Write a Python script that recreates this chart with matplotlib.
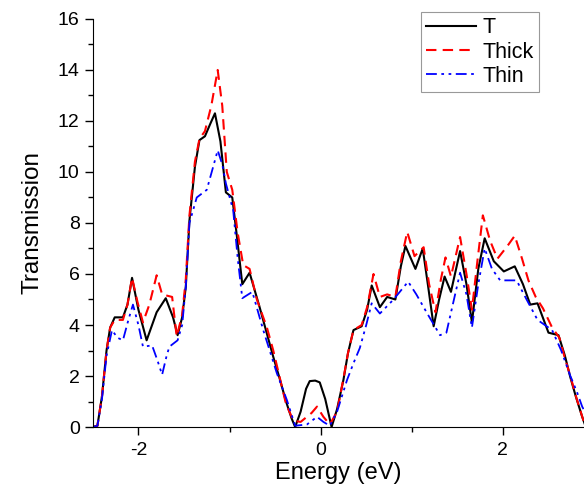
import matplotlib
matplotlib.use("Agg")
import matplotlib.pyplot as plt
from matplotlib.ticker import MultipleLocator

plt.rcParams['font.family'] = ['Liberation Sans', 'DejaVu Sans']
plt.rcParams['axes.unicode_minus'] = False

# T curve (black solid)
e_t = [-2.5, -2.45, -2.40, -2.35, -2.31, -2.26, -2.17, -2.12, -2.07, -2.00, -1.91, -1.80,
       -1.70, -1.62, -1.57, -1.52, -1.48, -1.44, -1.38, -1.33, -1.27, -1.21, -1.16, -1.10,
       -1.04, -0.97, -0.92, -0.86, -0.78, -0.67, -0.52, -0.45, -0.38, -0.32, -0.28, -0.22,
       -0.16, -0.12, -0.06, -0.01, 0.05, 0.12, 0.18, 0.25, 0.30, 0.36, 0.45, 0.51, 0.56,
       0.65, 0.73, 0.82, 0.88, 0.93, 1.04, 1.12, 1.18, 1.24, 1.30, 1.36, 1.43, 1.53, 1.60,
       1.66, 1.73, 1.80, 1.90, 2.01, 2.13, 2.22, 2.30, 2.38, 2.50, 2.61, 2.68, 2.74, 2.80,
       2.87, 2.90]
t_t = [0, 0.05, 1.2, 3.0, 3.9, 4.3, 4.3, 4.8, 5.85, 4.6, 3.4, 4.5,
       5.05, 4.3, 3.6, 4.3, 5.5, 8.1, 10.2, 11.25, 11.4, 11.9, 12.3, 11.2,
       9.2, 9.0, 7.5, 5.6, 6.05, 4.7, 2.75, 1.9, 1.0, 0.35, 0.0, 0.6,
       1.5, 1.8, 1.82, 1.75, 1.1, 0.0, 0.7, 1.85, 2.9, 3.8, 3.95, 4.6, 5.55,
       4.7, 5.1, 5.0, 6.3, 7.1, 6.2, 7.0, 5.5, 3.95, 5.0, 5.9, 5.3, 6.9, 5.6,
       4.1, 6.2, 7.4, 6.5, 6.1, 6.3, 5.6, 4.8, 4.85, 3.7, 3.6, 2.8, 1.95, 1.2,
       0.4, 0.1]

# Thick curve (red dashed)
e_thick = [-2.5, -2.45, -2.40, -2.35, -2.31, -2.26, -2.17, -2.12, -2.07, -2.01, -1.95, -1.88,
           -1.80, -1.74, -1.63, -1.58, -1.52, -1.48, -1.44, -1.38, -1.33, -1.27, -1.20, -1.13,
           -1.08, -1.03, -0.97, -0.91, -0.85, -0.78, -0.70, -0.59, -0.52, -0.45, -0.38, -0.30,
           -0.22, -0.10, -0.04, 0.03, 0.10, 0.18, 0.25, 0.30, 0.36, 0.45, 0.51, 0.58, 0.65,
           0.73, 0.82, 0.88, 0.95, 1.03, 1.13, 1.19, 1.26, 1.32, 1.37, 1.43, 1.53, 1.60, 1.66,
           1.72, 1.78, 1.86, 1.94, 2.05, 2.13, 2.21, 2.28, 2.36, 2.44, 2.54, 2.62, 2.68, 2.74,
           2.81, 2.88, 2.90]
t_thick = [0, 0.05, 1.2, 3.0, 3.9, 4.2, 4.2, 4.8, 5.85, 4.9, 4.1, 4.8,
           5.95, 5.2, 5.1, 3.55, 4.4, 5.8, 8.3, 10.4, 11.3, 11.6, 12.6, 14.0,
           12.6, 10.0, 9.3, 7.6, 6.35, 6.2, 5.0, 3.9, 3.0, 1.95, 0.9, 0.25,
           0.2, 0.55, 0.8, 0.4, 0.1, 0.6, 1.9, 2.9, 3.8, 4.0, 4.7, 6.0, 5.1,
           5.2, 5.1, 6.5, 7.65, 6.7, 7.05, 5.6, 4.5, 5.8, 6.65, 5.9, 7.45, 6.0, 4.6,
           6.5, 8.3, 7.3, 6.6, 7.1, 7.5, 6.6, 5.75, 5.1, 4.65, 3.9, 3.5, 2.7, 2.0,
           1.1, 0.3, 0.1]

# Thin curve (blue dash-dot)
e_thin = [-2.5, -2.45, -2.40, -2.35, -2.29, -2.23, -2.17, -2.11, -2.06, -2.00, -1.95, -1.85,
          -1.79, -1.74, -1.69, -1.66, -1.57, -1.52, -1.48, -1.44, -1.36, -1.25, -1.18, -1.13,
          -1.08, -1.04, -0.96, -0.91, -0.86, -0.75, -0.63, -0.48, -0.37, -0.28, -0.15, -0.04,
          0.03, 0.10, 0.18, 0.29, 0.36, 0.43, 0.50, 0.56, 0.65, 0.80, 0.96, 1.05, 1.17, 1.31,
          1.38, 1.45, 1.53, 1.60, 1.66, 1.73, 1.80, 1.88, 1.97, 2.15, 2.26, 2.38, 2.54, 2.64,
          2.74, 2.81, 2.87, 2.90]
t_thin = [0, 0.05, 1.1, 2.8, 3.8, 3.5, 3.4, 4.2, 4.8, 4.0, 3.15, 3.2,
          2.6, 2.05, 2.8, 3.15, 3.4, 4.0, 5.5, 8.0, 9.0, 9.3, 10.2, 10.85,
          10.3, 9.55, 8.5, 6.6, 5.05, 5.3, 3.8, 2.1, 1.05, 0.05, 0.1, 0.4,
          0.2, 0.05, 0.6, 1.85, 2.5, 3.1, 4.0, 4.85, 4.45, 5.0, 5.7, 5.2, 4.45, 3.6,
          3.7, 4.8, 6.05, 5.2, 3.9, 5.6, 7.0, 6.2, 5.75, 5.75, 5.0, 4.2, 3.8, 3.0,
          2.0, 1.4, 0.8, 0.6]

fig = plt.figure(figsize=(5.84, 4.94), dpi=100)
ax = fig.add_axes([0.159, 0.1356, 0.841, 0.826])

ax.plot(e_t, t_t, color='black', linewidth=1.5, label='T')
ax.plot(e_thick, t_thick, color='red', linewidth=1.5, linestyle=(0, (5, 3)), label='Thick')
ax.plot(e_thin, t_thin, color='blue', linewidth=1.3, linestyle=(0, (6, 2.5, 1.5, 2.5, 1.5, 2.5)), label='Thin')

ax.set_xlim(-2.5, 2.89)
ax.set_ylim(0, 16)
ax.xaxis.set_major_locator(MultipleLocator(2))
ax.xaxis.set_minor_locator(MultipleLocator(1))
ax.yaxis.set_major_locator(MultipleLocator(2))
ax.yaxis.set_minor_locator(MultipleLocator(1))
ax.spines['top'].set_visible(False)
ax.spines['right'].set_visible(False)
ax.tick_params(which='major', direction='out', length=6, width=1, labelsize=14)
ax.tick_params(axis='x', which='major', pad=5)
ax.tick_params(which='minor', direction='out', length=3.5, width=1)

ax.set_xlabel('Energy (eV)', fontsize=17, labelpad=2)
ax.set_ylabel('Transmission', fontsize=17.5, labelpad=10)

leg = ax.legend(loc='upper right', bbox_to_anchor=(0.908, 1.017), fontsize=15.5, fancybox=False,
                edgecolor='gray', handlelength=2.3, handletextpad=0.3, borderpad=0.25,
                labelspacing=0.15, borderaxespad=0.0)
leg.get_frame().set_linewidth(0.8)

fig.savefig('out.png', dpi=100)
